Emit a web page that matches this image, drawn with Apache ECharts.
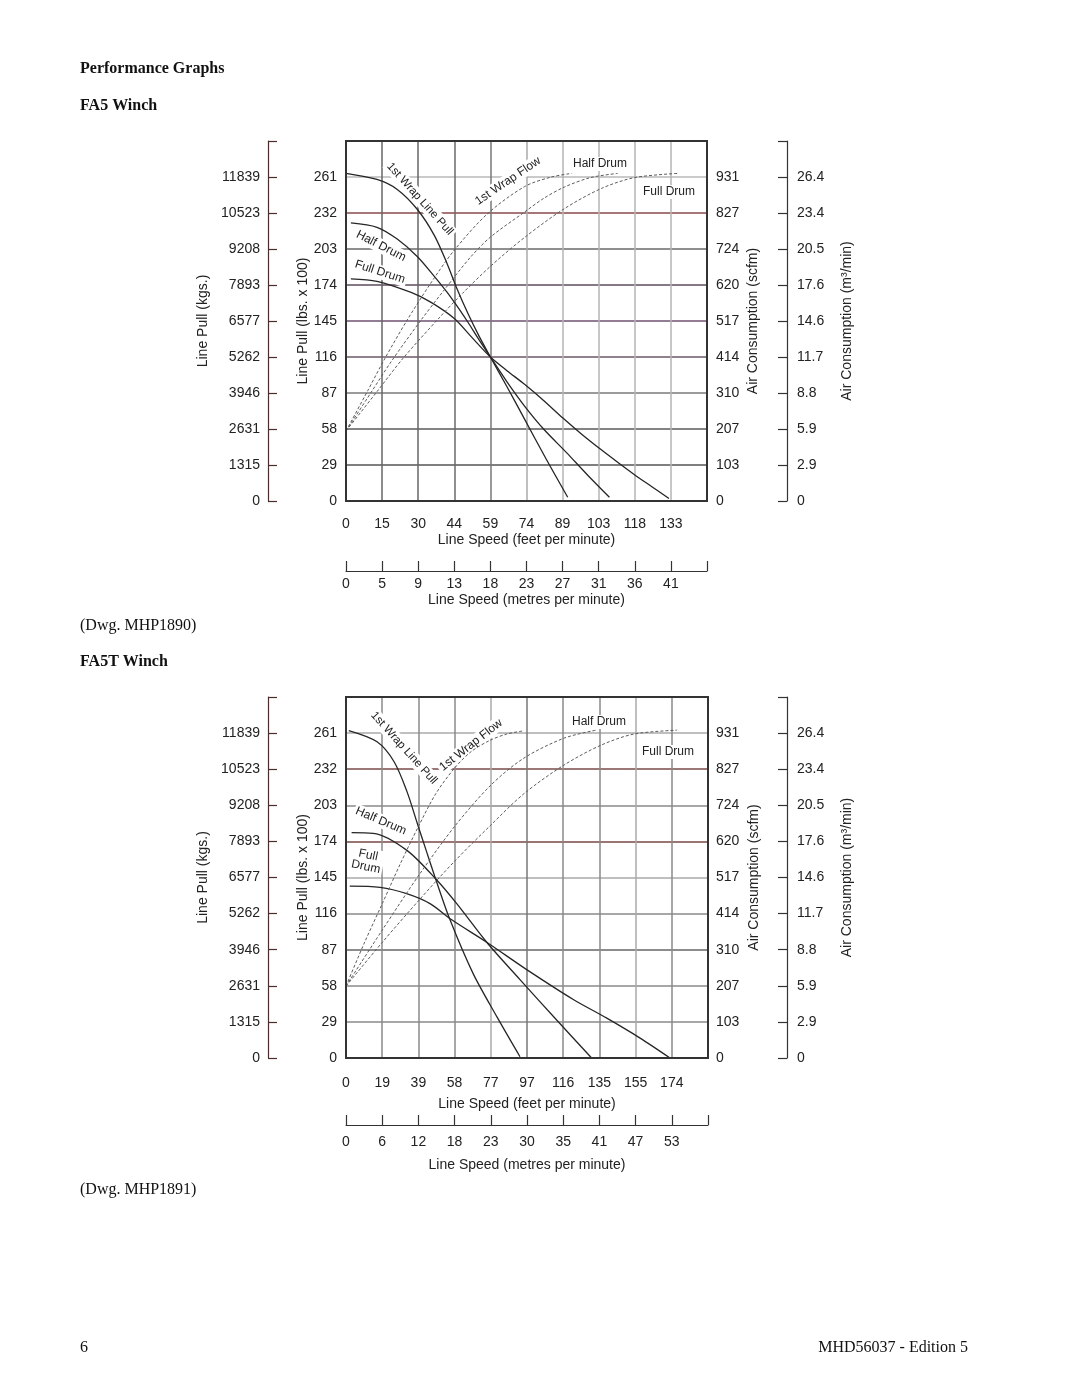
<!DOCTYPE html>
<html>
<head>
<meta charset="utf-8">
<title>FA5 / FA5T Winch Performance Graphs</title>
<script src="https://cdn.jsdelivr.net/npm/echarts@6/dist/echarts.min.js"></script>
<style>
  html, body { margin: 0; padding: 0; background: #fff; }
  #page { width: 1080px; height: 1397px; }
</style>
</head>
<body>
<div id="page"></div>
<script>
// tick labels (shared by both winches)
var lbsLabels = ['0', '29', '58', '87', '116', '145', '174', '203', '232', '261'];
var kgsLabels = ['0', '1315', '2631', '3946', '5262', '6577', '7893', '9208', '10523', '11839'];
var scfmLabels = ['0', '103', '207', '310', '414', '517', '620', '724', '827', '931'];
var m3Labels = ['0', '2.9', '5.9', '8.8', '11.7', '14.6', '17.6', '20.5', '23.4', '26.4'];

// FA5 speed labels
var fa5FeetLabels = ['0', '15', '30', '44', '59', '74', '89', '103', '118', '133'];
var fa5MetreLabels = ['0', '5', '9', '13', '18', '23', '27', '31', '36', '41'];
// FA5T speed labels
var fa5tFeetLabels = ['0', '19', '39', '58', '77', '97', '116', '135', '155', '174'];
var fa5tMetreLabels = ['0', '6', '12', '18', '23', '30', '35', '41', '47', '53'];

// FA5: [line speed ft/min, line pull lbs x 100]
var fa5WrapPull = [[0, 264], [12.7, 259], [21, 251], [29.2, 235], [36.2, 214], [41.5, 191], [45.5, 171], [50, 151], [54.5, 133], [59.2, 116], [66, 92], [73.2, 66], [82, 34], [90.9, 3]];
var fa5HalfPull = [[2, 224], [12.7, 220.5], [21, 211], [29.2, 197], [36.2, 181], [41.5, 168], [47.3, 152], [50, 144], [54.5, 130], [59.2, 116], [66, 96], [73.2, 76.5], [81, 58], [90.4, 39], [99, 21], [108, 3]];
var fa5FullPull = [[2, 179], [12.7, 177], [26.7, 168], [34.9, 160], [44.4, 147], [51.5, 132], [59.2, 116], [66, 105], [73.2, 94], [81, 81], [88.8, 67], [96.5, 54], [104.8, 41], [111.5, 31], [118.4, 21], [125.4, 11.5], [132.4, 2]];
// FA5: [line speed ft/min, air consumption scfm]
var fa5WrapFlow = [[0, 201], [9, 318], [16, 410], [25.1, 520], [34.5, 623], [44, 717], [58, 825], [73.2, 903], [83.9, 930], [92.5, 941]];
var fa5HalfFlow = [[0, 201], [10.3, 312], [18.5, 400], [30.8, 520], [40.7, 610], [51, 700], [59.2, 758], [73.2, 830], [81, 869], [89.6, 902], [100.3, 929], [111.4, 941]];
var fa5FullFlow = [[0, 201], [12.7, 314], [23.4, 410], [38.2, 526], [47.7, 596], [59.2, 674], [73.2, 757], [89.6, 840], [104.8, 898], [118.4, 929], [136.1, 941]];

// FA5T: [line speed ft/min, line pull lbs x 100]
var fa5tWrapPull = [[1.5, 263], [16.6, 254], [25.7, 238], [32.6, 214], [38, 189], [42.8, 167], [48.1, 143], [55.6, 111], [67.9, 68], [80.7, 33], [93, 1]];
var fa5tHalfPull = [[3, 181], [14.6, 180.5], [32.4, 167], [48.5, 143], [59.2, 124], [75.2, 93], [93, 63], [112.6, 30.5], [131.3, 0]];
var fa5tFullPull = [[2, 138], [18.2, 137], [32.4, 132], [44.9, 124], [56.5, 111], [75.2, 93], [96.6, 71], [121.5, 47], [139.4, 32], [157.2, 16], [173.2, 0]];
// FA5T: [line speed ft/min, air consumption scfm]
var fa5tWrapFlow = [[0, 206], [10, 332], [19.9, 448], [29, 556], [38.6, 662], [48, 757], [58.3, 832], [67, 878], [77, 910], [86, 928], [94.8, 937]];
var fa5tHalfFlow = [[0, 206], [19.2, 365], [39, 524], [58.3, 665], [77.5, 782], [95.1, 859], [116.5, 916], [133.6, 939]];
var fa5tFullFlow = [[0, 206], [19.2, 330], [39, 452], [58.3, 565], [77, 665], [95.1, 757], [116.5, 839], [136.3, 896], [154, 928], [177, 939]];

var sans = '"Liberation Sans", Arial, Helvetica, sans-serif';
var serif = '"Liberation Serif", "Times New Roman", serif';
var ink = '#222';

// label i sits on tick i, the last tick has no label
function tickText (labels, step) {
  return function (value) {
    var i = Math.round(value / step);
    return labels[i] === undefined ? '' : labels[i];
  };
}

function textStyle () {
  return { color: ink, fontFamily: sans, fontSize: 14 };
}

function feetAxis (grid, max, labels, margin, nameGap, colors) {
  var step = max / 10;
  return {
    type: 'value', gridIndex: grid, position: 'bottom', min: 0, max: max, interval: step,
    name: 'Line Speed (feet per minute)', nameLocation: 'middle', nameGap: nameGap,
    nameTextStyle: textStyle(),
    axisLine: { show: false, onZero: false }, axisTick: { show: false },
    axisLabel: Object.assign(textStyle(), { margin: margin, formatter: tickText(labels, step) }),
    splitLine: { show: true, lineStyle: { color: colors, width: 1.5 } }
  };
}

function metreAxis (grid, max, labels, offset, margin, nameGap) {
  var step = max / 10;
  return {
    type: 'value', gridIndex: grid, position: 'bottom', offset: offset, min: 0, max: max, interval: step,
    name: 'Line Speed (metres per minute)', nameLocation: 'middle', nameGap: nameGap,
    nameTextStyle: textStyle(),
    axisLine: { show: true, onZero: false, lineStyle: { color: '#333', width: 1.2 } },
    axisTick: { show: true, inside: true, length: 10, lineStyle: { color: '#333', width: 1.2 } },
    axisLabel: Object.assign(textStyle(), { margin: margin, formatter: tickText(labels, step) }),
    splitLine: { show: false }
  };
}

function lbsAxis (grid, colors) {
  return {
    type: 'value', gridIndex: grid, position: 'left', min: 0, max: 290, interval: 29,
    name: 'Line Pull (lbs. x 100)', nameLocation: 'middle', nameGap: 36, nameRotate: 90,
    nameTextStyle: textStyle(),
    axisLine: { show: false, onZero: false }, axisTick: { show: false },
    axisLabel: Object.assign(textStyle(), { margin: 9, formatter: tickText(lbsLabels, 29) }),
    splitLine: { show: true, lineStyle: { color: colors, width: 1.5 } }
  };
}

function kgsAxis (grid) {
  return {
    type: 'value', gridIndex: grid, position: 'left', offset: 78, min: 0, max: 290, interval: 29,
    name: 'Line Pull (kgs.)', nameLocation: 'middle', nameGap: 58, nameRotate: 90,
    nameTextStyle: textStyle(),
    axisLine: { show: true, onZero: false, lineStyle: { color: '#4a2c2c', width: 1.2 } },
    axisTick: { show: true, inside: true, length: 9, lineStyle: { color: '#4a2c2c', width: 1.2 } },
    axisLabel: Object.assign(textStyle(), { margin: 8, formatter: tickText(kgsLabels, 29) }),
    splitLine: { show: false }
  };
}

function scfmAxis (grid, margin) {
  return {
    type: 'value', gridIndex: grid, position: 'right', min: 0, max: 1034, interval: 103.4,
    name: 'Air Consumption (scfm)', nameLocation: 'middle', nameGap: 39, nameRotate: 90,
    nameTextStyle: textStyle(),
    axisLine: { show: false, onZero: false }, axisTick: { show: false },
    axisLabel: Object.assign(textStyle(), { margin: margin, formatter: tickText(scfmLabels, 103.4) }),
    splitLine: { show: false }
  };
}

function m3Axis (grid, offset) {
  return {
    type: 'value', gridIndex: grid, position: 'right', offset: offset, min: 0, max: 1034, interval: 103.4,
    name: 'Air Consumption (m³/min)', nameLocation: 'middle', nameGap: 53, nameRotate: 90,
    nameTextStyle: textStyle(),
    axisLine: { show: true, onZero: false, lineStyle: { color: '#333', width: 1.2 } },
    axisTick: { show: true, inside: true, length: 9, lineStyle: { color: '#333', width: 1.2 } },
    axisLabel: Object.assign(textStyle(), { margin: 10, formatter: tickText(m3Labels, 103.4) }),
    splitLine: { show: false }
  };
}

function pullLine (name, data, xi, yi) {
  return {
    name: name, type: 'line', xAxisIndex: xi, yAxisIndex: yi, data: data,
    smooth: 0.3, symbol: 'none', silent: true, z: 3,
    lineStyle: { color: '#262626', width: 1.3 }
  };
}

function flowLine (name, data, xi, yi) {
  return {
    name: name, type: 'line', xAxisIndex: xi, yAxisIndex: yi, data: data,
    smooth: 0.3, symbol: 'none', silent: true, z: 3,
    lineStyle: { color: '#5c5c5c', width: 1, type: [3, 2] }
  };
}

// text written on the plot, angle in degrees (positive = rising)
function note (x, y, angle, text, size) {
  return {
    type: 'text', x: x, y: y, rotation: angle * Math.PI / 180, z: 1, silent: true,
    style: {
      text: text, fill: ink, font: (size || 12) + 'px ' + sans, align: 'center', verticalAlign: 'middle',
      backgroundColor: '#fff', padding: [1, 2], lineHeight: 12
    }
  };
}

function pageText (x, y, text, bold, align) {
  return {
    type: 'text', x: x, y: y, silent: true,
    style: {
      text: text, fill: '#111', font: (bold ? 'bold ' : '') + '16px ' + serif,
      align: align || 'left', verticalAlign: 'middle'
    }
  };
}

function frame (x, y, w, h) {
  return {
    type: 'rect', z: 5, silent: true,
    shape: { x: x, y: y, width: w, height: h },
    style: { fill: 'none', stroke: '#333', lineWidth: 2 }
  };
}

// grid line colours, one per tick from 0 upward (the scan is uneven)
var fa5Vertical = ['#444', '#666', '#666', '#6a6a6a', '#777', '#aaa', '#b4b4b4', '#b4b4b4', '#b4b4b4', '#b4b4b4', '#444'];
var fa5Horizontal = ['#444', '#555', '#5a5a5a', '#7a7a7a', '#6b5866', '#6e5270', '#5c4c5c', '#6a6a6a', '#8a4848', '#b8b8b8', '#444'];
var fa5tVertical = ['#444', '#8a8a8a', '#8a8a8a', '#8a8a8a', '#aaa', '#777', '#8a8a8a', '#8a8a8a', '#aaa', '#8a8a8a', '#444'];
var fa5tHorizontal = ['#444', '#8a8a8a', '#8a8a8a', '#666', '#8a8a8a', '#aaa', '#7a4646', '#8a8a8a', '#7a4a4a', '#aaa', '#444'];

var chart = echarts.init(document.getElementById('page'), null, { renderer: 'canvas' });

chart.setOption({
  backgroundColor: '#fff',
  animation: false,
  grid: [
    { left: 346, top: 141, width: 361, height: 360, outerBoundsMode: 'none' },
    { left: 346, top: 697, width: 362, height: 361, outerBoundsMode: 'none' }
  ],
  xAxis: [
    feetAxis(0, 148, fa5FeetLabels, 16, 32, fa5Vertical),
    metreAxis(0, 148, fa5MetreLabels, 70, 6, 22),
    feetAxis(1, 193.5, fa5tFeetLabels, 18, 39, fa5tVertical),
    metreAxis(1, 193.5, fa5tMetreLabels, 67, 10, 33)
  ],
  yAxis: [
    lbsAxis(0, fa5Horizontal),
    kgsAxis(0),
    scfmAxis(0, 9),
    m3Axis(0, 80),
    lbsAxis(1, fa5tHorizontal),
    kgsAxis(1),
    scfmAxis(1, 8),
    m3Axis(1, 79)
  ],
  series: [
    pullLine('FA5 1st Wrap Line Pull', fa5WrapPull, 0, 0),
    pullLine('FA5 Half Drum Pull', fa5HalfPull, 0, 0),
    pullLine('FA5 Full Drum Pull', fa5FullPull, 0, 0),
    flowLine('FA5 1st Wrap Flow', fa5WrapFlow, 0, 2),
    flowLine('FA5 Half Drum Flow', fa5HalfFlow, 0, 2),
    flowLine('FA5 Full Drum Flow', fa5FullFlow, 0, 2),
    pullLine('FA5T 1st Wrap Line Pull', fa5tWrapPull, 2, 4),
    pullLine('FA5T Half Drum Pull', fa5tHalfPull, 2, 4),
    pullLine('FA5T Full Drum Pull', fa5tFullPull, 2, 4),
    flowLine('FA5T 1st Wrap Flow', fa5tWrapFlow, 2, 6),
    flowLine('FA5T Half Drum Flow', fa5tHalfFlow, 2, 6),
    flowLine('FA5T Full Drum Flow', fa5tFullFlow, 2, 6)
  ],
  graphic: [
    pageText(80, 69, 'Performance Graphs', true),
    pageText(80, 106, 'FA5 Winch', true),
    pageText(80, 626, '(Dwg. MHP1890)', false),
    pageText(80, 662, 'FA5T Winch', true),
    pageText(80, 1190, '(Dwg. MHP1891)', false),
    pageText(80, 1348, '6', false),
    pageText(968, 1348, 'MHD56037 - Edition 5', false, 'right'),
    // FA5 curve names
    note(420, 199, -48, '1st Wrap Line Pull', 11.5),
    note(381, 246, -27, 'Half Drum'),
    note(380, 272, -18, 'Full Drum'),
    note(508, 181, 34, '1st Wrap Flow'),
    note(600, 164, 0, 'Half Drum'),
    note(669, 192, 0, 'Full Drum'),
    // FA5T curve names
    note(404, 748, -48, '1st Wrap Line Pull', 11.5),
    note(471, 745, 38, '1st Wrap Flow'),
    note(381, 821, -23, 'Half Drum'),
    note(367, 861, -12, 'Full\nDrum'),
    note(599, 722, 0, 'Half Drum'),
    note(668, 752, 0, 'Full Drum'),
    frame(346, 141, 361, 360),
    frame(346, 697, 362, 361)
  ]
});
</script>
</body>
</html>
